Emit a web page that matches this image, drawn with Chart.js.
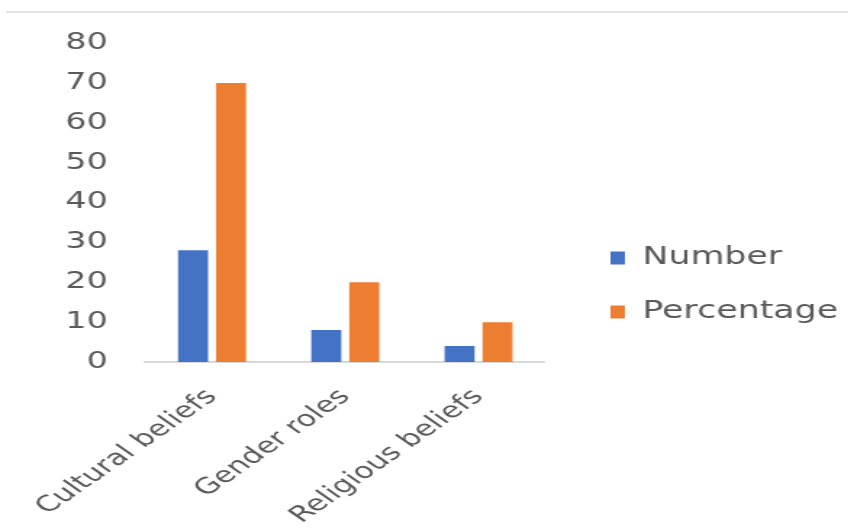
<!DOCTYPE html>
<html>
<head>
<meta charset="utf-8">
<script src="https://cdn.jsdelivr.net/npm/chart.js@4"></script>
<style>
  html, body { margin: 0; padding: 0; background: #fff; }
  body { width: 848px; height: 531px; overflow: hidden; position: relative; }
  #topline { position: absolute; left: 6px; right: 0; top: 11px; border-top: 2px solid #e4e4e4; }
  /* the source picture is stretched sideways, so the chart is drawn narrow and widened */
  #wrap { position: absolute; left: 0; top: 0; width: 585px; height: 531px; transform: scaleX(1.45); transform-origin: 0 0; }
</style>
</head>
<body>
<div id="topline"></div>
<div id="wrap"><canvas id="chart" width="585" height="531"></canvas></div>
<script>
const categories = ['Cultural beliefs', 'Gender roles', 'Religious beliefs'];
const numberValues = [28, 8, 4];
const percentageValues = [70, 20, 10];
const seriesNames = ['Number', 'Percentage'];
const seriesColors = ['#4472C4', '#ED7D31'];
const yMax = 80;
const yStep = 10;

const textColor = '#595959';
const fontFamily = '"DejaVu Sans", sans-serif';

// nudge the legend a little right of where chart.js puts it
const legendShift = {
  id: 'legendShift',
  afterLayout(chart) {
    chart.legend.left += 15;
    chart.legend.right += 15;
  }
};

const ctx = document.getElementById('chart').getContext('2d');
new Chart(ctx, {
  type: 'bar',
  data: {
    labels: categories,
    datasets: [
      { label: seriesNames[0], data: numberValues, backgroundColor: seriesColors[0] },
      { label: seriesNames[1], data: percentageValues, backgroundColor: seriesColors[1] }
    ]
  },
  plugins: [legendShift],
  options: {
    responsive: false,
    animation: false,
    categoryPercentage: 0.57,
    barPercentage: 0.79,
    layout: { padding: { top: 43, bottom: 4, left: 19, right: 12 } },
    plugins: {
      tooltip: { enabled: false },
      legend: {
        position: 'right',
        maxWidth: 260,
        labels: {
          boxWidth: 10,
          boxHeight: 13,
          padding: 30,
          color: textColor,
          font: { family: fontFamily, size: 24 }
        }
      }
    },
    scales: {
      x: {
        grid: { display: false, drawTicks: false },
        border: { color: '#d9d9d9', width: 2 },
        ticks: {
          color: textColor,
          font: { family: fontFamily, size: 22 },
          minRotation: 45,
          maxRotation: 45,
          autoSkip: false,
          padding: 22
        },
        afterFit(scale) {
          scale.paddingLeft = 0;
          scale.height = 165;
        }
      },
      y: {
        min: 0,
        max: yMax,
        grid: { display: false, drawTicks: false },
        border: { display: false },
        ticks: {
          stepSize: yStep,
          color: textColor,
          font: { family: fontFamily, size: 23 },
          padding: 26
        }
      }
    }
  }
});
</script>
</body>
</html>
